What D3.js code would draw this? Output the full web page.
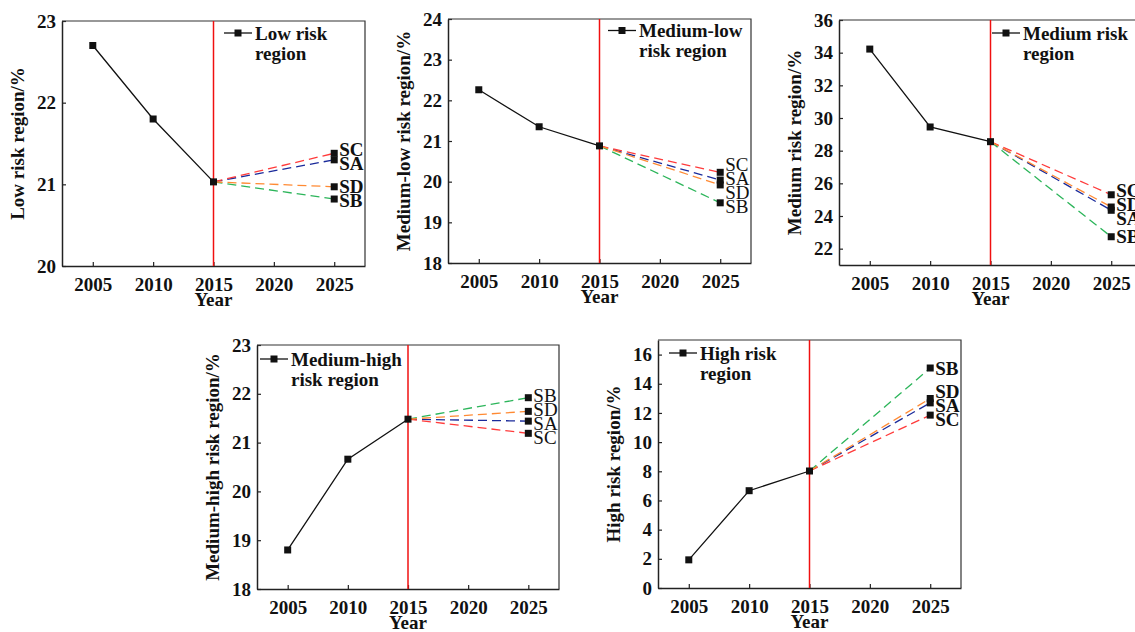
<!DOCTYPE html>
<html>
<head>
<meta charset="utf-8">
<script src="https://cdn.jsdelivr.net/npm/d3@7"></script>
<style>
    body { margin: 0; background: #fff; }
    svg { display: block; font-family: "Liberation Serif", "Times New Roman", serif; }
</style>
</head>
<body>
<script>
// historical years and the projection year
var years = [2005, 2010, 2015];
var futureYear = 2025;
var xTicks = [2005, 2010, 2015, 2020, 2025];
var scenarios = ["SA", "SB", "SC", "SD"];

// share of each risk region (%), historical 2005/2010/2015
var lowHist = [22.70, 21.80, 21.03];
var medLowHist = [22.26, 21.35, 20.88];
var medHist = [34.22, 29.45, 28.55];
var medHighHist = [18.80, 20.66, 21.48];
var highHist = [1.93, 6.67, 8.02];

// 2025 projections, in the order SA, SB, SC, SD
var lowFuture = [21.30, 20.82, 21.38, 20.97];
var medLowFuture = [20.04, 19.48, 20.23, 19.92];
var medFuture = [24.35, 22.73, 25.30, 24.55];
var medHighFuture = [21.44, 21.92, 21.19, 21.64];
var highFuture = [12.69, 15.08, 11.85, 12.99];

// y tick values per panel
var lowTicks = [20, 21, 22, 23];
var medLowTicks = [18, 19, 20, 21, 22, 23, 24];
var medTicks = [22, 24, 26, 28, 30, 32, 34, 36];
var medHighTicks = [18, 19, 20, 21, 22, 23];
var highTicks = [0, 2, 4, 6, 8, 10, 12, 14, 16];

var width = 1135, height = 632;
var scenarioColor = d3.scaleOrdinal()
    .domain(scenarios)
    .range(["#1a2a9a", "#2cb55a", "#ff3b3b", "#ff8a33"]);

var svg = d3.select("body").append("svg")
    .attr("width", width)
    .attr("height", height);

var panels = [
    { left: 62, top: 21, w: 303, h: 245, ymin: 20, ymax: 23, ticks: lowTicks,
      hist: lowHist, future: lowFuture, yLabel: "Low risk region/%",
      legend: ["Low risk", "region"], legX: 162, legY: 12, bold: true },
    { left: 448, top: 19, w: 303, h: 244, ymin: 18, ymax: 24, ticks: medLowTicks,
      hist: medLowHist, future: medLowFuture, yLabel: "Medium-low risk region/%",
      legend: ["Medium-low", "risk region"], legX: 160, legY: 11.5, bold: false },
    { left: 839, top: 20, w: 303, h: 245, ymin: 21, ymax: 36, ticks: medTicks,
      hist: medHist, future: medFuture, yLabel: "Medium risk region/%",
      legend: ["Medium risk", "region"], legX: 153, legY: 13, bold: true },
    { left: 257, top: 345, w: 302, h: 244, ymin: 18, ymax: 23, ticks: medHighTicks,
      hist: medHighHist, future: medHighFuture, yLabel: "Medium-high risk region/%",
      legend: ["Medium-high", "risk region"], legX: 3, legY: 14, bold: false },
    { left: 658, top: 340, w: 303, h: 248, ymin: 0, ymax: 17, ticks: highTicks,
      hist: highHist, future: highFuture, yLabel: "High risk region/%",
      legend: ["High risk", "region"], legX: 11, legY: 13, bold: true }
];

function spreadLabels(items, gap) {
    items.sort((a, b) => a.y - b.y);
    items.forEach(d => d.ly = d.y);
    for (var it = 0; it < 50; it++) {
        for (var i = 1; i < items.length; i++) {
            var over = gap - (items[i].ly - items[i - 1].ly);
            if (over > 0) {
                items[i].ly += over / 2;
                items[i - 1].ly -= over / 2;
            }
        }
    }
    return items;
}

function drawPanel(p) {
    var g = svg.append("g").attr("transform", `translate(${p.left},${p.top})`);
    var x = d3.scaleLinear().domain([2002.45, 2027.55]).range([0, p.w]);
    var y = d3.scaleLinear().domain([p.ymin, p.ymax]).range([p.h, 0]);

    // axes, ticks inward
    var xAxis = g.append("g")
        .attr("transform", `translate(0,${p.h})`)
        .call(d3.axisBottom(x).tickValues(xTicks).tickFormat(d3.format("d")).tickSizeInner(-4).tickSizeOuter(0).tickPadding(8));
    var yAxis = g.append("g")
        .call(d3.axisLeft(y).tickValues(p.ticks).tickFormat(d3.format("d")).tickSizeInner(-4).tickSizeOuter(0).tickPadding(6));
    [xAxis, yAxis].forEach(a => {
        a.selectAll("text")
            .attr("font-family", "Liberation Serif")
            .attr("font-size", 19)
            .attr("font-weight", "bold")
            .attr("fill", "#111");
        a.selectAll("line").attr("stroke", "#222").attr("stroke-width", 1.2);
        a.select(".domain").attr("stroke", "#222").attr("stroke-width", 1.5);
    });
    xAxis.selectAll("text").attr("dy", "0.9em");

    // frame top/right
    g.append("path")
        .attr("d", `M0,0H${p.w}V${p.h}`)
        .attr("fill", "none")
        .attr("stroke", "#333")
        .attr("stroke-width", 1.2);

    // 2015 divider
    g.append("line")
        .attr("x1", x(2015)).attr("x2", x(2015))
        .attr("y1", 0).attr("y2", p.h)
        .attr("stroke", "#f01010")
        .attr("stroke-width", 1.5);

    var lastVal = p.hist[p.hist.length - 1];
    var proj = scenarios.map((s, i) => ({ name: s, value: p.future[i] }));

    g.selectAll(".proj")
        .data(proj)
        .enter().append("line")
        .attr("class", "proj")
        .attr("x1", x(2015)).attr("y1", y(lastVal))
        .attr("x2", d => x(futureYear)).attr("y2", d => y(d.value))
        .attr("stroke", d => scenarioColor(d.name))
        .attr("stroke-width", 1.3)
        .attr("stroke-dasharray", "9,5");

    var line = d3.line().x((d, i) => x(years[i])).y(d => y(d));
    g.append("path")
        .attr("d", line(p.hist))
        .attr("fill", "none")
        .attr("stroke", "#111")
        .attr("stroke-width", 1.3);

    g.selectAll(".hm")
        .data(p.hist)
        .enter().append("rect")
        .attr("x", (d, i) => x(years[i]) - 3.5)
        .attr("y", d => y(d) - 3.5)
        .attr("width", 7).attr("height", 7)
        .attr("fill", "#111");

    g.selectAll(".fm")
        .data(proj)
        .enter().append("rect")
        .attr("x", x(futureYear) - 3.5)
        .attr("y", d => y(d.value) - 3.5)
        .attr("width", 7).attr("height", 7)
        .attr("fill", "#111");

    var labels = spreadLabels(proj.map(d => ({ name: d.name, y: y(d.value) })), 14);
    g.selectAll(".lab")
        .data(labels)
        .enter().append("text")
        .attr("x", x(futureYear) + 5)
        .attr("y", d => d.ly)
        .attr("dy", "0.35em")
        .attr("font-size", 19)
        .attr("font-weight", p.bold ? "bold" : "normal")
        .attr("fill", "#111")
        .text(d => d.name);

    // legend
    var lg = g.append("g").attr("transform", `translate(${p.legX},${p.legY})`);
    lg.append("line").attr("x1", 0).attr("x2", 28).attr("y1", 0).attr("y2", 0)
        .attr("stroke", "#111").attr("stroke-width", 1.3);
    lg.append("rect").attr("x", 10.5).attr("y", -3.5).attr("width", 7).attr("height", 7).attr("fill", "#111");
    lg.selectAll("text")
        .data(p.legend)
        .enter().append("text")
        .attr("x", 31)
        .attr("y", (d, i) => 6.5 + i * 20)
        .attr("font-size", 19)
        .attr("font-weight", "bold")
        .attr("fill", "#111")
        .text(d => d);

    // axis titles
    g.append("text")
        .attr("transform", `translate(-38,${p.h / 2}) rotate(-90)`)
        .attr("text-anchor", "middle")
        .attr("font-size", 19)
        .attr("font-weight", "bold")
        .attr("fill", "#111")
        .text(p.yLabel);
    g.append("text")
        .attr("x", x(2015))
        .attr("y", p.h + 40)
        .attr("text-anchor", "middle")
        .attr("font-size", 19)
        .attr("font-weight", "bold")
        .attr("fill", "#111")
        .text("Year");
}

panels.forEach(drawPanel);
</script>
</body>
</html>
